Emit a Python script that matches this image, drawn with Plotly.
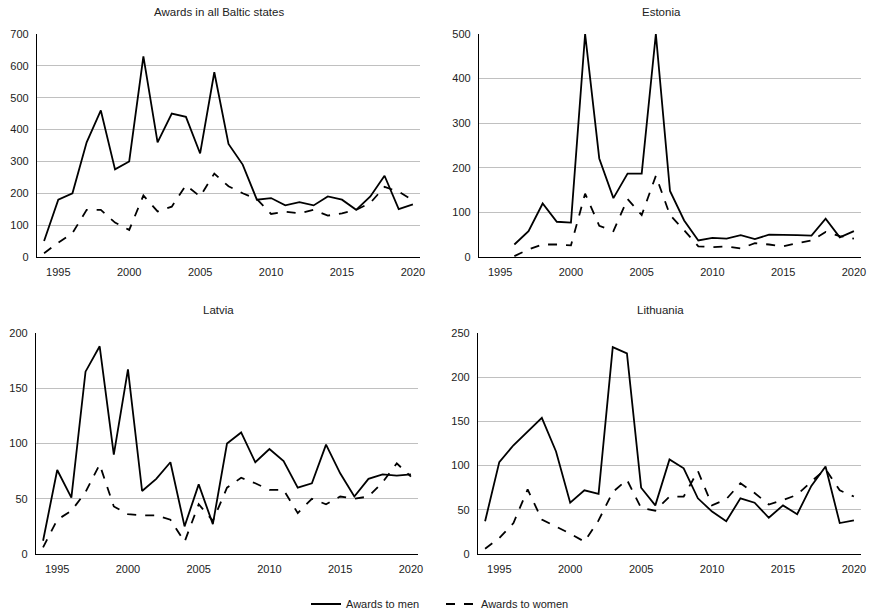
import plotly.graph_objects as go

years = list(range(1994, 2021))

baltic_men = [50, 180, 200, 360, 460, 275, 300, 630, 360, 450, 440, 325, 580, 355, 290,
              180, 185, 162, 172, 162, 190, 180, 148, 190, 255, 150, 165]
baltic_women = [12, 45, 75, 148, 148, 108, 85, 193, 143, 158, 225, 190, 262, 222, 200,
                182, 135, 142, 137, 148, 130, 137, 148, 170, 220, 205, 178]

estonia_men = [None, None, 28, 58, 120, 79, 77, 500, 221, 132, 187, 187, 500, 148, 82,
               37, 43, 41, 49, 40, 50, 50, 49, 48, 86, 44, 58]
estonia_women = [None, None, 2, 17, 28, 28, 26, 142, 70, 58, 130, 94, 182, 94, 60,
                 24, 22, 24, 19, 31, 28, 24, 31, 37, 56, 47, 41]

latvia_men = [12, 76, 51, 165, 188, 90, 167, 57, 68, 83, 25, 63, 27, 100, 110,
              83, 95, 84, 60, 64, 99, 73, 52, 68, 72, 71, 72]
latvia_women = [6, 31, 39, 56, 81, 43, 36, 35, 35, 31, 11, 45, 30, 60, 69,
                64, 58, 58, 37, 50, 45, 52, 50, 52, 65, 82, 70]

lithuania_men = [37, 104, 123, 139, 154, 116, 58, 72, 68, 234, 227, 75, 55, 107, 97,
                 63, 48, 37, 63, 58, 41, 55, 45, 77, 99, 35, 38]
lithuania_women = [6, 18, 35, 73, 39, 31, 23, 14, 38, 70, 84, 52, 49, 65, 65,
                   94, 55, 62, 80, 69, 56, 61, 67, 82, 96, 72, 65]

titles = ["Awards in all Baltic states", "Estonia", "Latvia", "Lithuania"]
men_series = [baltic_men, estonia_men, latvia_men, lithuania_men]
women_series = [baltic_women, estonia_women, latvia_women, lithuania_women]
y_max = [700, 500, 200, 250]
y_step = [100, 100, 50, 50]
x_ticks = [1995, 2000, 2005, 2010, 2015, 2020]

W, H = 873, 616
# pixel boxes (left, right, top, bottom)
boxes = [(37, 420, 34, 257), (479, 861, 34, 257), (36, 418, 333, 554), (478, 861, 333, 554)]
title_pos = [(219, 12), (661, 12), (218, 310), (660, 310)]

FONT = "Liberation Sans, Arial, sans-serif"
TXT = "#222222"
fig = go.Figure()
layout = {}
for i in range(4):
    n = "" if i == 0 else str(i + 1)
    fig.add_trace(go.Scatter(x=years, y=men_series[i], mode="lines", name="Awards to men",
                             line=dict(color="black", width=1.8), xaxis="x" + n, yaxis="y" + n,
                             showlegend=(i == 0), connectgaps=False))
    fig.add_trace(go.Scatter(x=years, y=women_series[i], mode="lines", name="Awards to women",
                             line=dict(color="black", width=1.8, dash="dash"), xaxis="x" + n, yaxis="y" + n,
                             showlegend=(i == 0), connectgaps=False))
    l, r, t, b = boxes[i]
    layout["xaxis" + n] = dict(domain=[l / W, r / W], range=[1993.5, 2020.5], tickvals=x_ticks,
                               showgrid=False, zeroline=False, showline=True, linecolor="black",
                               linewidth=1.2, ticks="", ticklabelstandoff=5,
                               tickfont=dict(size=11, color=TXT, family=FONT),
                               anchor="y" + n, fixedrange=True, automargin=False)
    layout["yaxis" + n] = dict(domain=[1 - b / H, 1 - t / H], range=[0, y_max[i]],
                               tick0=0, dtick=y_step[i], showgrid=True, gridcolor="#c0c0c0", gridwidth=1.2,
                               zeroline=False, showline=True, linecolor="black", linewidth=1.2, ticks="",
                               ticklabelstandoff=5,
                               tickfont=dict(size=11, color=TXT, family=FONT), anchor="x" + n,
                               fixedrange=True, automargin=False)

annotations = []
for i in range(4):
    x, y = title_pos[i]
    annotations.append(dict(text=titles[i], x=x / W, y=1 - y / H, xref="paper", yref="paper",
                            xanchor="center", yanchor="middle", showarrow=False,
                            font=dict(size=11.5, color=TXT, family=FONT)))

fig.update_layout(**layout)
fig.update_layout(
    width=W, height=H,
    margin=dict(l=0, r=0, t=0, b=0, pad=0, autoexpand=False),
    paper_bgcolor="white", plot_bgcolor="white",
    annotations=annotations,
    showlegend=True,
    legend=dict(orientation="h", x=441 / W, xanchor="center", y=1 - 604 / H, yanchor="middle",
                font=dict(size=11, color=TXT, family=FONT), entrywidth=90,
                bgcolor="rgba(0,0,0,0)"),
)
fig.write_html("out.html", config={"displayModeBar": False},
               post_script="document.body.style.margin='0';document.body.style.overflow='hidden';")
